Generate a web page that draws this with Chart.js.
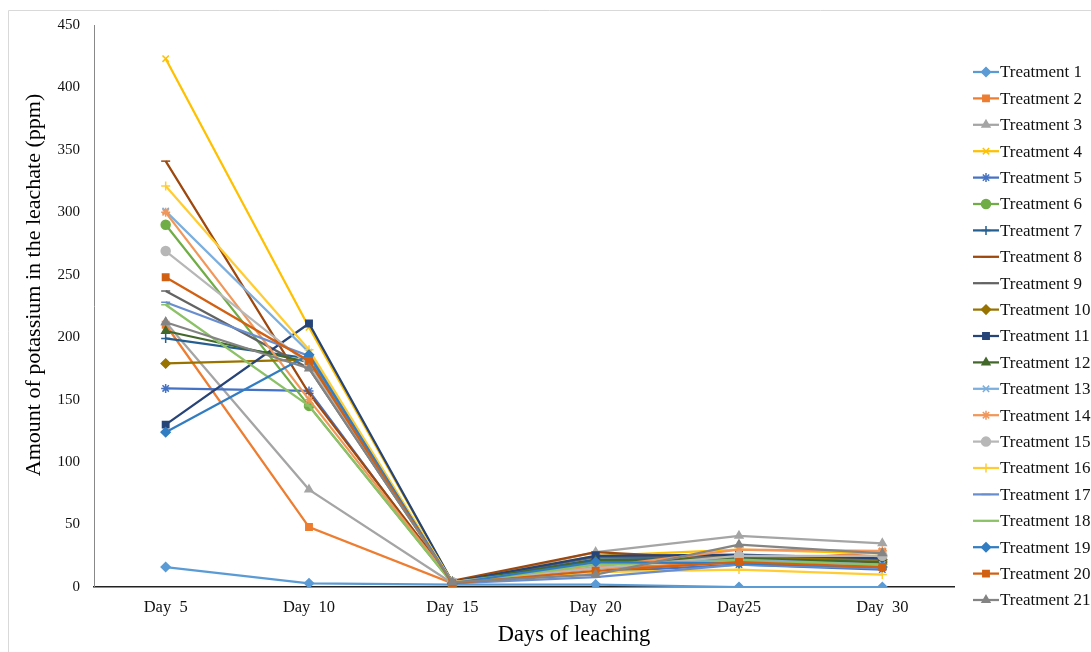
<!DOCTYPE html>
<html>
<head>
<meta charset="utf-8">
<script src="https://cdn.jsdelivr.net/npm/chart.js@4.4.1/dist/chart.umd.min.js"></script>
<style>
  html, body { margin: 0; padding: 0; background: #fff; }
  #wrap { position: relative; width: 1091px; height: 652px; }
</style>
</head>
<body>
<div id="wrap"><canvas id="chart" width="1091" height="652"></canvas></div>
<script>
// days on the x axis
const days = ['Day  5', 'Day  10', 'Day  15', 'Day  20', 'Day25', 'Day  30'];

// potassium in leachate (ppm)
const t1  = [16, 3, 2, 2, 0, 0];
const t2  = [210, 48, 3, 15, 20, 28];
const t3  = [212, 78, 3, 28, 41, 35];
const t4  = [423, 208, 4, 25, 30, 27];
const t5  = [159, 157, 3, 12, 18, 14];
const t6  = [290, 145, 3, 22, 22, 20];
const t7  = [199, 183, 4, 22, 23, 19];
const t8  = [341, 155, 5, 28, 22, 20];
const t9  = [237, 175, 4, 24, 24, 22];
const t10 = [179, 182, 4, 20, 24, 22];
const t11 = [130, 211, 4, 25, 26, 23];
const t12 = [205, 180, 4, 21, 23, 20];
const t13 = [301, 188, 4, 18, 22, 18];
const t14 = [300, 150, 4, 16, 30, 29];
const t15 = [269, 178, 4, 15, 25, 25];
const t16 = [321, 190, 4, 12, 14, 10];
const t17 = [228, 185, 3, 8, 18, 15];
const t18 = [226, 145, 3, 18, 21, 18];
const t19 = [124, 186, 3, 20, 19, 16];
const t20 = [248, 181, 3, 13, 20, 16];
const t21 = [212, 175, 4, 10, 34, 27];

const series = [t1, t2, t3, t4, t5, t6, t7, t8, t9, t10, t11, t12, t13, t14, t15, t16, t17, t18, t19, t20, t21];
const names = series.map((_, i) => 'Treatment ' + (i + 1));

const colors = ['#5B9BD5', '#ED7D31', '#A5A5A5', '#FFC000', '#4472C4', '#70AD47', '#255E91',
  '#9E480E', '#636363', '#997300', '#264478', '#43682B', '#7CAFDD', '#F1975A', '#B7B7B7',
  '#FFCD33', '#698ED0', '#8CC168', '#327DC2', '#D26012', '#848484'];
const markers = ['rectRot', 'rect', 'triangle', 'crossRot', 'star', 'circle', 'cross',
  'line', 'line', 'rectRot', 'rect', 'triangle', 'crossRot', 'star', 'circle',
  'cross', 'line', 'line', 'rectRot', 'rect', 'triangle'];

const serif = '"Liberation Serif", "Times New Roman", serif';

const datasets = series.map((vals, i) => ({
  label: names[i],
  data: vals,
  borderColor: colors[i],
  backgroundColor: colors[i],
  pointBackgroundColor: colors[i],
  pointBorderColor: colors[i],
  pointStyle: markers[i],
  pointRadius: 4.5,
  pointBorderWidth: 1.5,
  borderWidth: 2.25,
  tension: 0,
  order: series.length - i
}));

// frame, axis titles and the line+marker legend
const extras = {
  id: 'extras',
  afterDraw(chart) {
    const ctx = chart.ctx;
    ctx.save();
    ctx.strokeStyle = '#d9d9d9';
    ctx.lineWidth = 1;
    ctx.beginPath();
    ctx.moveTo(8.5, 652);
    ctx.lineTo(8.5, 10.5);
    ctx.lineTo(1091, 10.5);
    ctx.stroke();

    ctx.fillStyle = '#000';
    ctx.textAlign = 'center';
    ctx.textBaseline = 'middle';
    ctx.font = '22.5px ' + serif;
    ctx.fillText('Days of leaching', 574, 635);
    ctx.translate(34, 285);
    ctx.rotate(-Math.PI / 2);
    ctx.font = '22px ' + serif;
    ctx.fillText('Amount of potassium in the leachate (ppm)', 0, 0);
    ctx.restore();

    chart.data.datasets.forEach((ds, i) => {
      const y = 72 + i * 26.4;
      ctx.save();
      ctx.strokeStyle = ds.borderColor;
      ctx.fillStyle = ds.borderColor;
      ctx.lineWidth = 2.25;
      ctx.beginPath();
      ctx.moveTo(973, y);
      ctx.lineTo(999, y);
      ctx.stroke();
      ctx.lineWidth = 1.5;
      Chart.helpers.drawPoint(ctx, { pointStyle: ds.pointStyle, radius: 4.5, borderWidth: 1.5, rotation: 0 }, 986, y);
      ctx.fillStyle = '#111';
      ctx.font = '17px ' + serif;
      ctx.textAlign = 'left';
      ctx.textBaseline = 'middle';
      ctx.fillText(ds.label, 1000, y + 1);
      ctx.restore();
    });
  }
};

new Chart(document.getElementById('chart').getContext('2d'), {
  type: 'line',
  data: { labels: days, datasets },
  options: {
    responsive: false,
    animation: false,
    layout: { padding: { left: 0, top: 25, right: 137, bottom: 0 } },
    plugins: { legend: { display: false }, tooltip: { enabled: false } },
    scales: {
      x: {
        offset: true,
        grid: { display: false, drawTicks: false },
        border: { display: true, color: '#222', width: 1.5 },
        ticks: { color: '#111', padding: 11, font: { family: serif, size: 16.5 }, maxRotation: 0 },
        afterFit(scale) { scale.height = 65; }
      },
      y: {
        min: 0,
        max: 450,
        grid: { display: false, drawTicks: false },
        border: { display: true, color: '#888', width: 1 },
        ticks: { stepSize: 50, color: '#111', padding: 14, font: { family: serif, size: 15 } },
        afterFit(scale) { scale.width = 94; }
      }
    }
  },
  plugins: [extras]
});
</script>
</body>
</html>
